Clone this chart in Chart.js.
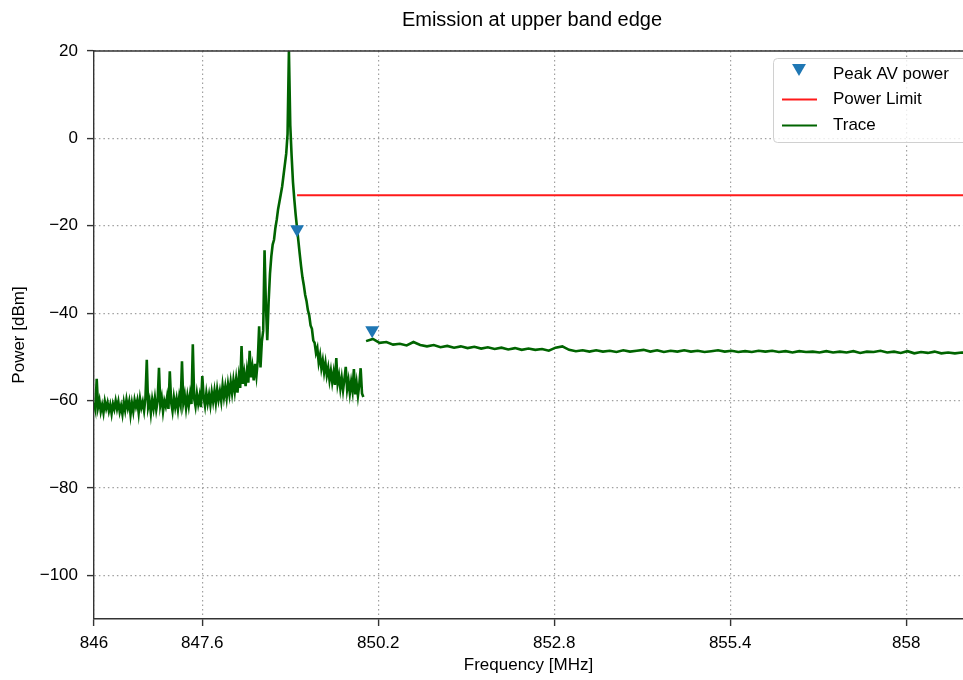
<!DOCTYPE html>
<html>
<head>
<meta charset="utf-8">
<title>Emission at upper band edge</title>
<script src="https://cdn.jsdelivr.net/npm/chart.js@4.4.1/dist/chart.umd.min.js"></script>
<style>
  html, body { margin: 0; padding: 0; background: #fff; }
  #wrap { width: 963px; height: 680px; }
</style>
</head>
<body>
<div id="wrap"><canvas id="canvas" width="963" height="680"></canvas></div>
<script>
const FONT = '"Liberation Sans", Arial, Helvetica, sans-serif';

// Tick labels as they appear on the axes
const freqTicks = [846, 847.6, 850.2, 852.8, 855.4, 858];
const powerTicks = [-100, -80, -60, -40, -20, 0, 20];

// First sweep: 846.00 .. 849.98 MHz, one point every 0.02 MHz (dBm)
const sweepAStart = 846.0;
const sweepAStep = 0.02;
const sweepAPower = [
    -60.5, -62, -55, -61.5, -60, -62.5, -61, -62.8, -60.2, -61.8,
    -60.5, -62.4, -61, -63, -60.8, -62, -60.1, -61.9, -60.3, -62.6,
    -61.2, -63.1, -60.4, -62.2, -59.8, -61.7, -60.2, -63.2, -60.6, -62.5,
    -59.9, -61.4, -60, -62.8, -59.6, -61.6, -60.3, -62.3, -59.5, -50.7,
    -61.5, -60, -62.9, -59.8, -61.8, -59.4, -62.1, -60.2, -52.5, -61,
    -59.3, -62.5, -60.1, -61.3, -59.2, -61.9, -53.3, -60.4, -62.4, -59.3,
    -61.5, -59.6, -62, -59.1, -60.9, -51, -60.5, -58.7, -61.7, -59,
    -61.2, -58.6, -60.8, -47.1, -59.5, -61.3, -58.4, -60.7, -58.9, -61.5,
    -54.4, -59.2, -61.2, -58.3, -60.6, -58.7, -61, -58.1, -60.2, -57.8,
    -60.5, -57.5, -59.8, -57.9, -60.1, -56.6, -59.2, -56.9, -59.4, -56.3,
    -58.6, -55.8, -58.3, -55.4, -57.9, -55.1, -58.2, -54.6, -57.1, -47.5,
    -56.2, -53.8, -56.7, -53.2, -55.9, -48.6, -54.7, -52.3, -55.4, -51.6,
    -54.3, -50.8, -43, -52.4, -46.5, -44, -25.6, -38, -46.2, -37.5,
    -31, -27, -24.3, -23.2, -20.5, -18.6, -16.2, -14.5, -12.8, -11,
    -8.5, -6, -3.5, 1, 20, 3, -4, -10, -14, -17.5,
    -20.5, -23.5, -26.5, -29.3, -31.8, -33.6, -35.8, -37.2, -39.3, -40.5,
    -42.8, -43.6, -46.2, -46.8, -49.1, -48, -51.3, -49.6, -52.6, -50.8,
    -53.5, -51.4, -54.2, -52.5, -55.3, -53.2, -55.8, -53.6, -56.4, -50.3,
    -56.1, -54.3, -57.2, -54.8, -57.6, -55.1, -52.3, -57.4, -55.4, -58.3,
    -55.7, -57.8, -52.8, -58.6, -56, -58.9, -56.3, -52.6, -58.4, -59.2
];

// Second sweep: 850.02 .. 858.92 MHz, one point every 0.1 MHz (dBm)
const sweepBStart = 850.02;
const sweepBStep = 0.1;
const sweepBPower = [
    -46.4, -45.9, -46.8, -46.6, -47.2, -47.0, -47.4, -46.6, -47.3, -47.6,
    -47.3, -47.8, -47.5, -47.9, -47.6, -48.0, -47.7, -48.1, -47.8, -48.2,
    -47.9, -48.3, -48.0, -48.4, -48.1, -48.4, -48.2, -48.6, -47.9, -47.6,
    -48.4, -48.7, -48.5, -48.8, -48.5, -48.8, -48.6, -48.9, -48.5, -48.8,
    -48.6, -48.4, -48.8, -48.5, -48.9, -48.6, -48.8, -48.5, -48.8, -48.6,
    -48.9, -48.7, -48.5, -48.8, -48.6, -48.9, -48.7, -48.9, -48.6, -48.8,
    -48.6, -48.9, -48.7, -49.0, -48.7, -48.9, -48.8, -49.0, -48.7, -49.0,
    -48.8, -49.0, -48.7, -49.1, -48.8, -48.9, -48.6, -49.0, -48.8, -49.1,
    -48.7, -49.2, -48.9, -49.1, -48.8, -49.2, -49.0, -49.2, -49.0, -49.2
];

// Power limit line
const limitFreq = [849.0, 859.0];
const limitPower = [-13, -13];

// Peak AV power markers
const peakFreq = [849.0, 850.11];
const peakPower = [-20.8, -43.9];

function sweepPoints(start, step, values) {
    return values.map((v, i) => ({ x: +(start + i * step).toFixed(3), y: v }));
}

// both sweeps in one line, with a gap between them
const tracePoints = sweepPoints(sweepAStart, sweepAStep, sweepAPower)
    .concat([{ x: 850.0, y: null }])
    .concat(sweepPoints(sweepBStart, sweepBStep, sweepBPower));

const limitPoints = limitFreq.map((f, i) => ({ x: f, y: limitPower[i] }));
const peakPoints = peakFreq.map((f, i) => ({ x: f, y: peakPower[i] }));

const fmtNum = (v) => (v < 0 ? '\u2212' + Math.abs(v) : String(v));

// title, top spine and the matplotlib-like legend box
const framePlugin = {
    id: 'frame',
    afterDraw(chart) {
        const { ctx, chartArea: a } = chart;
        ctx.save();

        ctx.strokeStyle = '#333';
        ctx.lineWidth = 1.4;
        ctx.beginPath();
        ctx.moveTo(a.left, a.top);
        ctx.lineTo(a.right, a.top);
        ctx.stroke();

        ctx.fillStyle = '#000';
        ctx.font = '20px ' + FONT;
        ctx.textAlign = 'center';
        ctx.textBaseline = 'middle';
        ctx.fillText('Emission at upper band edge', 532, 20);

        // legend
        const lx = 773.5, ly = 58.5, lw = 195, lh = 84, r = 4;
        ctx.beginPath();
        ctx.moveTo(lx + r, ly);
        ctx.lineTo(lx + lw - r, ly);
        ctx.arcTo(lx + lw, ly, lx + lw, ly + r, r);
        ctx.lineTo(lx + lw, ly + lh - r);
        ctx.arcTo(lx + lw, ly + lh, lx + lw - r, ly + lh, r);
        ctx.lineTo(lx + r, ly + lh);
        ctx.arcTo(lx, ly + lh, lx, ly + lh - r, r);
        ctx.lineTo(lx, ly + r);
        ctx.arcTo(lx, ly, lx + r, ly, r);
        ctx.closePath();
        ctx.fillStyle = 'rgba(255,255,255,0.8)';
        ctx.fill();
        ctx.strokeStyle = '#d0d0d0';
        ctx.lineWidth = 1;
        ctx.stroke();

        const ds = chart.data.datasets;
        ctx.fillStyle = ds[0].pointBackgroundColor;
        Chart.helpers.drawPoint(ctx, { pointStyle: 'triangle', rotation: 180, radius: 8, borderWidth: 0 }, 799, 68);

        ctx.lineWidth = 2;
        ctx.strokeStyle = ds[1].borderColor;
        ctx.beginPath(); ctx.moveTo(782, 99.5); ctx.lineTo(817, 99.5); ctx.stroke();
        ctx.strokeStyle = ds[2].borderColor;
        ctx.beginPath(); ctx.moveTo(782, 125.5); ctx.lineTo(817, 125.5); ctx.stroke();

        ctx.fillStyle = '#000';
        ctx.font = '17px ' + FONT;
        ctx.textAlign = 'left';
        ctx.fillText(ds[0].label, 833, 74);
        ctx.fillText(ds[1].label, 833, 99.5);
        ctx.fillText(ds[2].label, 833, 125.5);

        ctx.restore();
    }
};

const tickFont = { family: FONT, size: 17 };

new Chart(document.getElementById('canvas'), {
    type: 'line',
    data: {
        datasets: [
            {
                label: 'Peak AV power', data: peakPoints, showLine: false,
                pointStyle: 'triangle', rotation: 180, pointRadius: 8,
                pointBackgroundColor: '#1f77b4', pointBorderWidth: 0, order: 0
            },
            {
                label: 'Power Limit', data: limitPoints, borderColor: '#ff1a1a',
                borderWidth: 2, pointRadius: 0, order: 1
            },
            {
                label: 'Trace', data: tracePoints, borderColor: '#006400',
                borderWidth: 2.6, pointRadius: 0, spanGaps: false, tension: 0, order: 2
            }
        ]
    },
    options: {
        responsive: false,
        animation: false,
        devicePixelRatio: 1,
        layout: { autoPadding: false, padding: { top: 51, left: 0, right: 0, bottom: 0 } },
        plugins: {
            legend: { display: false },
            tooltip: { enabled: false },
            title: { display: false }
        },
        scales: {
            x: {
                type: 'linear',
                min: 846,
                max: 858.84,
                afterBuildTicks: (s) => { s.ticks = freqTicks.map(v => ({ value: v })); },
                afterFit: (s) => { s.height = 61; s.paddingRight = 0; },
                grid: { color: '#a0a0a0', lineWidth: 1.2, tickColor: '#333', tickLength: 7, tickWidth: 1.4, tickBorderDash: [] },
                border: { display: true, color: '#333', width: 1.4, dash: [1.5, 3] },
                ticks: {
                    color: '#000', font: tickFont, padding: 7, maxRotation: 0, autoSkip: false,
                    callback: (v) => String(+(+v).toFixed(1))
                },
                title: {
                    display: true, text: 'Frequency [MHz]', color: '#000',
                    font: tickFont, padding: { top: 0, bottom: 4 }
                }
            },
            y: {
                type: 'linear',
                min: -110,
                max: 20,
                afterBuildTicks: (s) => { s.ticks = powerTicks.map(v => ({ value: v })); },
                afterFit: (s) => { s.width = 94; },
                grid: { color: '#a0a0a0', lineWidth: 1.2, tickColor: '#333', tickLength: 7, tickWidth: 1.4, tickBorderDash: [] },
                border: { display: true, color: '#333', width: 1.4, dash: [1.5, 3] },
                ticks: { color: '#000', font: tickFont, padding: 9, callback: (v) => fmtNum(v) },
                title: {
                    display: true, text: 'Power [dBm]', color: '#000',
                    font: tickFont, padding: { top: 9, bottom: 0 }
                }
            }
        }
    },
    plugins: [framePlugin]
});
</script>
</body>
</html>
